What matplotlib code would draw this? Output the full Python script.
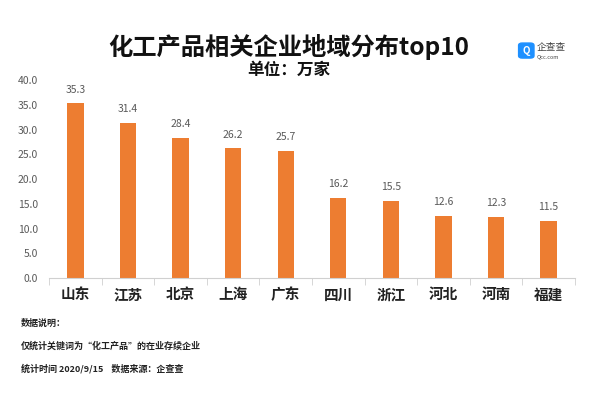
import matplotlib.pyplot as plt
from matplotlib.patches import FancyBboxPatch
import numpy as np

plt.rcParams['font.family'] = ['Noto Sans CJK SC', 'DejaVu Sans']

regions = ['山东', '江苏', '北京', '上海', '广东', '四川', '浙江', '河北', '河南', '福建']
values = [35.3, 31.4, 28.4, 26.2, 25.7, 16.2, 15.5, 12.6, 12.3, 11.5]
yticks = [0, 5, 10, 15, 20, 25, 30, 35, 40]

fig = plt.figure(figsize=(5.92, 3.95), dpi=100)
ax = fig.add_axes([0.083, 0.296, 0.888, 0.501])

x = np.arange(len(regions))
ax.bar(x, values, width=0.31, color='#ED7D31')
for xi, v in zip(x, values):
    ax.text(xi, v + 1.8, f'{v:.1f}', ha='center', va='bottom', fontsize=7.5, color='#595959')

ax.set_xlim(-0.5, len(regions) - 0.5)
ax.set_ylim(0, 40)
ax.set_yticks(yticks)
ax.set_yticklabels([f'{t:.1f}' for t in yticks], fontsize=7.5, color='#595959')
ax.tick_params(axis='y', length=0, pad=8)

# category labels, tick marks sit between categories
ax.set_xticks(x)
ax.set_xticklabels(regions, fontsize=10.5, fontweight='bold', color='#222222')
ax.tick_params(axis='x', length=0, pad=6)
ax.set_xticks(np.arange(len(regions) + 1) - 0.5, minor=True)
ax.tick_params(axis='x', which='minor', length=5, color='#d0d0d0')

for s in ['top', 'right', 'left']:
    ax.spines[s].set_visible(False)
ax.spines['bottom'].set_color('#d0d0d0')

fig.text(0.488, 0.882, '化工产品相关企业地域分布top10', ha='center', va='center',
         fontsize=17.5, fontweight='bold', color='#111111')
fig.text(0.488, 0.822, '单位：万家', ha='center', va='center',
         fontsize=12, fontweight='bold', color='#111111')

# logo
logo = FancyBboxPatch((0.878, 0.855), 0.022, 0.034, boxstyle='round,pad=0.002,rounding_size=0.006',
                      transform=fig.transFigure, color='#1E90FF', zorder=3)
fig.patches.append(logo)
fig.text(0.889, 0.872, 'Q', ha='center', va='center', fontsize=7, fontweight='bold', color='white')
fig.text(0.906, 0.880, '企查查', ha='left', va='center', fontsize=7, color='#444444')
fig.text(0.906, 0.856, 'Qcc.com', ha='left', va='center', fontsize=4, color='#444444')

notes = ['数据说明：', '仅统计关键词为“化工产品”的在业存续企业', '统计时间 2020/9/15    数据来源：企查查']
for i, n in enumerate(notes):
    fig.text(0.035, 0.182 - i * 0.058, n, ha='left', va='center', fontsize=6.5,
             fontweight='bold', color='#222222')

plt.savefig('out.png', dpi=100)
